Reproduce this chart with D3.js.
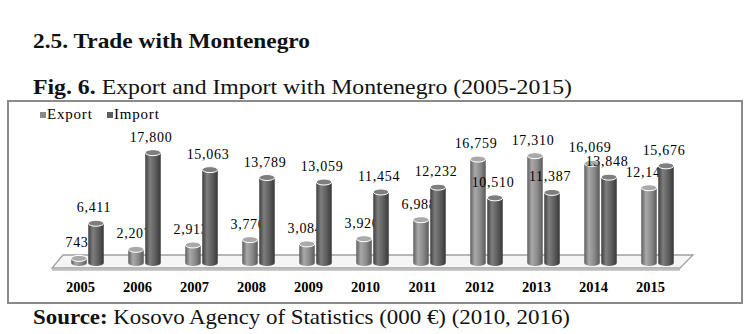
<!DOCTYPE html>
<html>
<head>
<meta charset="utf-8">
<script src="https://cdn.jsdelivr.net/npm/d3@7"></script>
<style>
  body { margin: 0; background: #fff; }
  svg { display: block; }
  svg text { font-family: "Liberation Serif", "Times New Roman", Times, serif; }
</style>
</head>
<body>
<div id="chart"></div>
<script>
var years = ["2005", "2006", "2007", "2008", "2009", "2010", "2011", "2012", "2013", "2014", "2015"];
var seriesNames = ["Export", "Import"];
var exportValues = [743, 2207, 2913, 3770, 3084, 3920, 6988, 16759, 17310, 16069, 12140];
var importValues = [6411, 17800, 15063, 13789, 13059, 11454, 12232, 10510, 11387, 13848, 15676];

var svg = d3.select("#chart")
    .append("svg")
    .attr("width", 756)
    .attr("height", 334);

svg.append("rect").attr("width", 756).attr("height", 334).attr("fill", "#fff");

// heading + caption above the box
svg.append("text")
    .attr("x", 33).attr("y", 48)
    .attr("font-size", 21)
    .attr("font-weight", "bold")
    .attr("textLength", 277)
    .attr("lengthAdjust", "spacingAndGlyphs")
    .attr("fill", "#111")
    .text("2.5. Trade with Montenegro");

var cap = svg.append("text")
    .attr("x", 33).attr("y", 94)
    .attr("font-size", 21)
    .attr("textLength", 539)
    .attr("lengthAdjust", "spacingAndGlyphs")
    .attr("fill", "#111");
cap.append("tspan").attr("font-weight", "bold").text("Fig. 6.");
cap.append("tspan").text(" Export and Import with Montenegro (2005-2015)");

var src = svg.append("text")
    .attr("x", 33).attr("y", 324)
    .attr("font-size", 21)
    .attr("textLength", 537)
    .attr("lengthAdjust", "spacingAndGlyphs")
    .attr("fill", "#111");
src.append("tspan").attr("font-weight", "bold").text("Source:");
src.append("tspan").text(" Kosovo Agency of Statistics (000 \u20ac) (2010, 2016)");

// chart frame
svg.append("rect")
    .attr("x", 8).attr("y", 101)
    .attr("width", 734).attr("height", 202)
    .attr("fill", "none")
    .attr("stroke", "#8a8a8a")
    .attr("stroke-width", 2);

// gradients for the cylinders
var defs = svg.append("defs");
var colors = {
    Export: ["#5e5e5e", "#a9a9a9", "#8a8a8a", "#5a5a5a"],
    Import: ["#3e3e3e", "#7e7e7e", "#5e5e5e", "#383838"]
};
seriesNames.forEach(function(s) {
    var g = defs.append("linearGradient").attr("id", "grad" + s)
        .attr("x1", "0%").attr("x2", "100%").attr("y1", "0%").attr("y2", "0%");
    g.append("stop").attr("offset", "0%").attr("stop-color", colors[s][0]);
    g.append("stop").attr("offset", "30%").attr("stop-color", colors[s][1]);
    g.append("stop").attr("offset", "65%").attr("stop-color", colors[s][2]);
    g.append("stop").attr("offset", "100%").attr("stop-color", colors[s][3]);
});

var x = d3.scaleBand()
    .domain(years)
    .range([59, 686])
    .padding(0);

var xInner = d3.scaleBand()
    .domain(seriesNames)
    .range([-17, 17])
    .padding(0);

var y = d3.scaleLinear()
    .domain([0, 20000])
    .range([263, 139]);

// legend
var legend = svg.append("g").attr("class", "legend");
var legendX = [40, 107];
seriesNames.forEach(function(s, i) {
    legend.append("rect")
        .attr("x", legendX[i]).attr("y", 112)
        .attr("width", 6).attr("height", 6)
        .attr("fill", s == "Export" ? "#8a8a8a" : "#5e5e5e");
    legend.append("text")
        .attr("x", legendX[i] + 7).attr("y", 119)
        .attr("font-size", 15)
        .attr("letter-spacing", 0.8)
        .attr("fill", "#000")
        .text(s);
});

// 3d floor
var floorY = y(0);
svg.append("path")
    .attr("d", "M52," + (floorY + 5) + " L680," + (floorY + 5) + " L693," + (floorY - 8) + " L63," + (floorY - 8) + " Z")
    .attr("fill", "#f5f5f5")
    .attr("stroke", "#a0a0a0")
    .attr("stroke-width", 1.3);
svg.append("path")
    .attr("d", "M52," + (floorY + 5) + " L680," + (floorY + 5))
    .attr("stroke", "#bdbdbd")
    .attr("stroke-width", 2.5)
    .attr("transform", "translate(0,1.5)");

var rows = years.map(function(yr, i) {
    return { year: yr, Export: exportValues[i], Import: importValues[i] };
});

var barW = xInner.bandwidth() - 1.5;
var ry = 3;

function cx(d, s) {
    return x(d.year) + x.bandwidth() / 2 + xInner(s) + xInner.bandwidth() / 2;
}

function cylinder(s) {
    var g = svg.append("g").attr("class", "bars-" + s);
    var bar = g.selectAll(".bar")
        .data(rows)
        .enter().append("g")
        .attr("class", "bar");

    bar.append("path")
        .attr("d", function(d) {
            var l = cx(d, s) - barW / 2, r = cx(d, s) + barW / 2;
            var top = y(d[s]), bot = y(0);
            return "M" + l + "," + top + " L" + l + "," + bot +
                " A" + (barW / 2) + "," + ry + " 0 0 0 " + r + "," + bot +
                " L" + r + "," + top + " Z";
        })
        .attr("fill", "url(#grad" + s + ")");

    bar.append("ellipse")
        .attr("cx", function(d) { return cx(d, s); })
        .attr("cy", function(d) { return y(d[s]); })
        .attr("rx", barW / 2)
        .attr("ry", ry)
        .attr("fill", colors[s][1])
        .attr("stroke", "#fff")
        .attr("stroke-width", 1);

    // value labels (drawn before the next series so import bars can cover them a bit)
    g.selectAll(".lbl")
        .data(rows)
        .enter().append("text")
        .attr("class", "lbl")
        .attr("x", function(d) { return cx(d, s) - 2; })
        .attr("y", function(d) { return y(d[s]) - 11; })
        .attr("text-anchor", "middle")
        .attr("font-size", 14)
        .attr("letter-spacing", 0.7)
        .attr("fill", "#000")
        .text(function(d) { return d3.format(",")(d[s]); });
}

cylinder("Export");
cylinder("Import");

// year labels under the floor
var xAxis = d3.axisBottom(x).tickSize(0).tickPadding(0);
var axisG = svg.append("g")
    .attr("transform", "translate(-7,282)")
    .call(xAxis);
axisG.select(".domain").remove();
axisG.selectAll("text")
    .attr("font-family", null)
    .attr("font-size", 14.5)
    .attr("font-weight", "bold")
    .attr("fill", "#000");
</script>
</body>
</html>
